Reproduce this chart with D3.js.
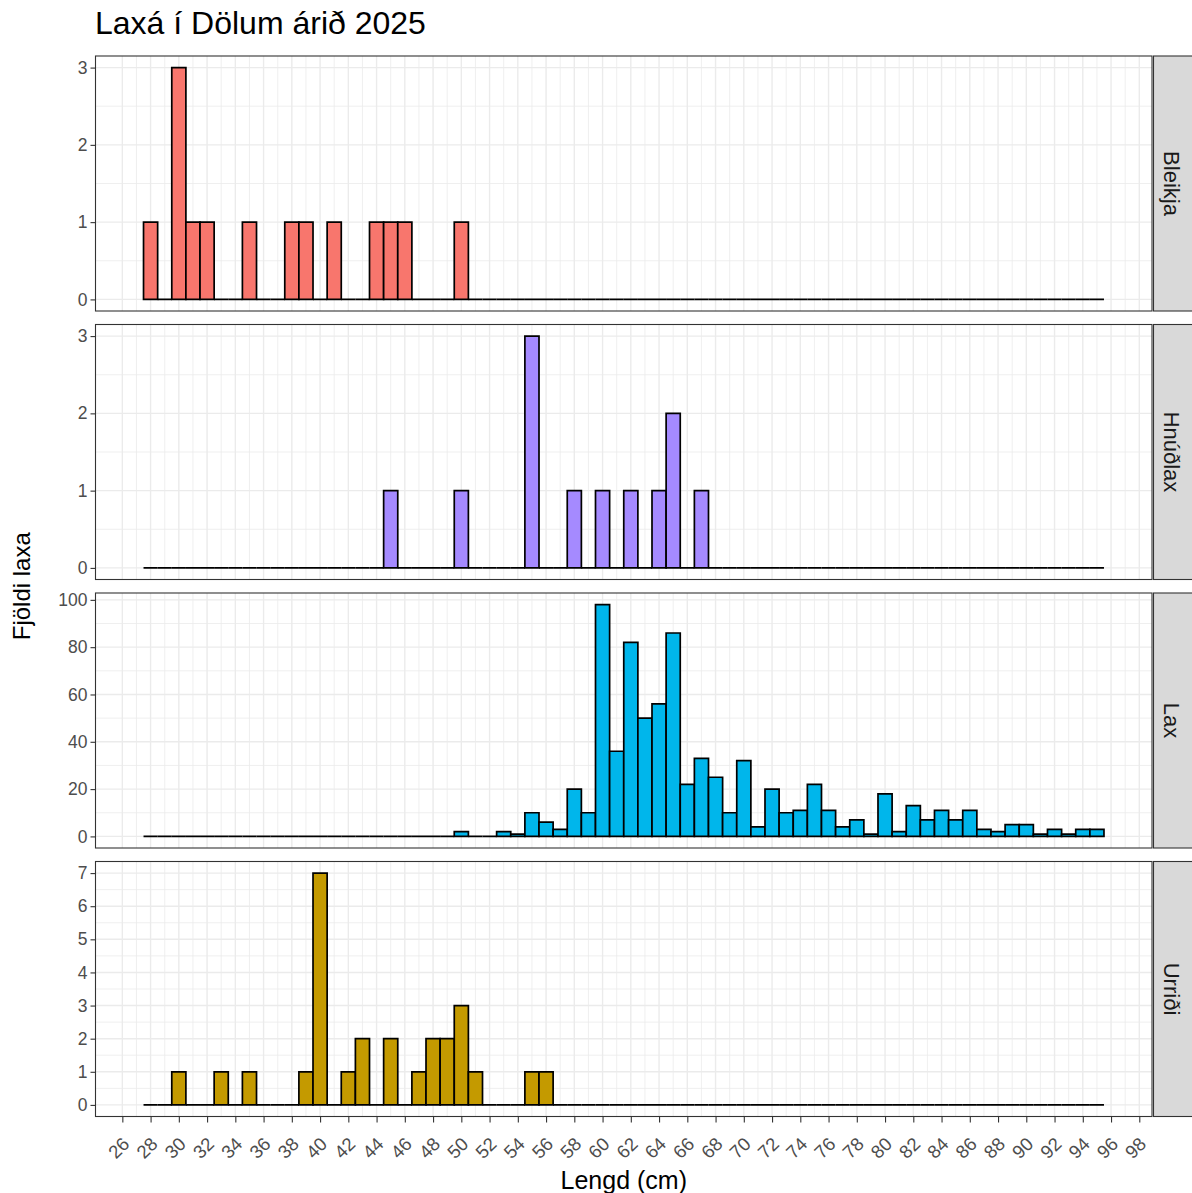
<!DOCTYPE html>
<html>
<head>
<meta charset="utf-8">
<script src="https://cdn.jsdelivr.net/npm/d3@7"></script>
<style>
  html, body { margin: 0; padding: 0; background: #fff; }
  svg { display: block; }
</style>
</head>
<body>
<svg id="chart" width="1192" height="1193"></svg>
<script>
// ---- data ----
const title = "Laxá í Dölum árið 2025";
const xTitle = "Lengd (cm)";
const yTitle = "Fjöldi laxa";
const species = ["Bleikja", "Hnúðlax", "Lax", "Urriði"];
const speciesColors = ["#F8766D", "#A58AFF", "#00B6EB", "#C49A00"];
const binStart = 27.5, binEnd = 95.5, binWidth = 1;

const bleikjaLength = [28, 30, 31, 32, 35, 38, 39, 41, 44, 45, 46, 50];
const bleikjaCount  = [1, 3, 1, 1, 1, 1, 1, 1, 1, 1, 1, 1];

const hnudlaxLength = [45, 50, 55, 58, 60, 62, 64, 65, 67];
const hnudlaxCount  = [1, 1, 3, 1, 1, 1, 1, 2, 1];

const laxLength = [50, 53, 54, 55, 56, 57, 58, 59, 60, 61, 62, 63, 64, 65, 66, 67, 68, 69, 70, 71, 72, 73,
                   74, 75, 76, 77, 78, 79, 80, 81, 82, 83, 84, 85, 86, 87, 88, 89, 90, 91, 92, 93, 94, 95];
const laxCount  = [2, 2, 1, 10, 6, 3, 20, 10, 98, 36, 82, 50, 56, 86, 22, 33, 25, 10, 32, 4, 20, 10,
                   11, 22, 11, 4, 7, 1, 18, 2, 13, 7, 11, 7, 11, 3, 2, 5, 5, 1, 3, 1, 3, 3];

const urridiLength = [30, 33, 35, 39, 40, 42, 43, 45, 47, 48, 49, 50, 51, 55, 56];
const urridiCount  = [1, 1, 1, 1, 7, 1, 2, 2, 1, 2, 2, 3, 1, 1, 1];

const xTicks = [26, 28, 30, 32, 34, 36, 38, 40, 42, 44, 46, 48, 50, 52, 54, 56, 58, 60, 62,
                64, 66, 68, 70, 72, 74, 76, 78, 80, 82, 84, 86, 88, 90, 92, 94, 96, 98];
const yTicksSmall = [0, 1, 2, 3];
const yTicksLax = [0, 20, 40, 60, 80, 100];
const yTicksUrridi = [0, 1, 2, 3, 4, 5, 6, 7];

const panelData = [
  { name: species[0], color: speciesColors[0], len: bleikjaLength, cnt: bleikjaCount, ticks: yTicksSmall },
  { name: species[1], color: speciesColors[1], len: hnudlaxLength, cnt: hnudlaxCount, ticks: yTicksSmall },
  { name: species[2], color: speciesColors[2], len: laxLength, cnt: laxCount, ticks: yTicksLax },
  { name: species[3], color: speciesColors[3], len: urridiLength, cnt: urridiCount, ticks: yTicksUrridi }
];

// ---- layout ----
const FONT = "'Liberation Sans', Arial, Helvetica, sans-serif";
const svg = d3.select("#chart");
const left = 95.5, right = 1152;
const top0 = 56, panelH = 255, gap = 13.5;
const stripW = 48;

const xPad = (binEnd - binStart) * 0.05;
const x = d3.scaleLinear().domain([binStart - xPad, binEnd + xPad]).range([left, right]);
const xMinor = xTicks.slice(0, -1).map((t, i) => (t + xTicks[i + 1]) / 2);

// title
svg.append("text").attr("x", 95).attr("y", 34)
  .attr("font-family", FONT).attr("font-size", 32).attr("fill", "#000")
  .text(title);

panelData.forEach((p, i) => {
  const pt = top0 + i * (panelH + gap);
  const pb = pt + panelH;
  const maxV = d3.max(p.cnt);
  const yPad = maxV * 0.05;
  const y = d3.scaleLinear().domain([-yPad, maxV + yPad]).range([pb, pt]);
  const g = svg.append("g");

  g.append("rect").attr("x", left).attr("y", pt).attr("width", right - left).attr("height", panelH).attr("fill", "#fff");

  // minor grid
  const step = p.ticks[1] - p.ticks[0];
  const yMinor = p.ticks.slice(0, -1).map((t) => t + step / 2);
  g.selectAll(".xmin").data(xMinor).join("line")
    .attr("x1", d => x(d)).attr("x2", d => x(d)).attr("y1", pt).attr("y2", pb)
    .attr("stroke", "#EBEBEB").attr("stroke-width", 0.8);
  g.selectAll(".ymin").data(yMinor).join("line")
    .attr("x1", left).attr("x2", right).attr("y1", d => y(d)).attr("y2", d => y(d))
    .attr("stroke", "#EBEBEB").attr("stroke-width", 0.8);
  // major grid
  g.selectAll(".xmaj").data(xTicks).join("line")
    .attr("x1", d => x(d)).attr("x2", d => x(d)).attr("y1", pt).attr("y2", pb)
    .attr("stroke", "#EBEBEB").attr("stroke-width", 1.4);
  g.selectAll(".ymaj").data(p.ticks).join("line")
    .attr("x1", left).attr("x2", right).attr("y1", d => y(d)).attr("y2", d => y(d))
    .attr("stroke", "#EBEBEB").attr("stroke-width", 1.4);

  // bins
  const lookup = new Map(p.len.map((l, k) => [l, p.cnt[k]]));
  const bins = d3.range(binStart, binEnd, binWidth).map(b0 => ({
    x0: b0, x1: b0 + binWidth, n: lookup.get(b0 + binWidth / 2) || 0
  }));
  g.selectAll(".bar").data(bins).join("path")
    .attr("d", d => {
      const X0 = x(d.x0), X1 = x(d.x1), Y0 = y(0), Y1 = y(d.n);
      return `M${X0},${Y0}V${Y1}H${X1}V${Y0}Z`;
    })
    .attr("fill", p.color).attr("stroke", "#000").attr("stroke-width", 1.7)
    .attr("stroke-linejoin", "miter");

  // panel border
  g.append("rect").attr("x", left).attr("y", pt).attr("width", right - left).attr("height", panelH)
    .attr("fill", "none").attr("stroke", "#333").attr("stroke-width", 1.1);

  // strip
  g.append("rect").attr("x", right + 1.5).attr("y", pt).attr("width", stripW).attr("height", panelH)
    .attr("fill", "#D9D9D9").attr("stroke", "#333").attr("stroke-width", 1.1);
  g.append("text")
    .attr("transform", `translate(${right + 20},${pt + panelH / 2}) rotate(90)`)
    .attr("text-anchor", "middle").attr("dy", "0.35em")
    .attr("font-family", FONT).attr("font-size", 22).attr("fill", "#1A1A1A")
    .text(p.name);

  // y axis
  const yAxis = d3.axisLeft(y).tickValues(p.ticks).tickSize(5).tickPadding(3).tickFormat(d3.format("d"));
  const ya = svg.append("g").attr("transform", `translate(${left},0)`).call(yAxis);
  ya.select(".domain").remove();
  ya.selectAll("line").attr("stroke", "#333").attr("stroke-width", 1.1);
  ya.selectAll("text").attr("font-family", FONT).attr("font-size", 17.5).attr("fill", "#4D4D4D");
});

// x axis
const bottom = top0 + 3 * (panelH + gap) + panelH;
const xAxis = d3.axisBottom(x).tickValues(xTicks).tickSize(6).tickFormat(d3.format("d"));
const xa = svg.append("g").attr("transform", `translate(0,${bottom})`).call(xAxis);
xa.select(".domain").remove();
xa.selectAll("line").attr("stroke", "#333").attr("stroke-width", 1.1);
xa.selectAll("text")
  .attr("font-family", FONT).attr("font-size", 18.5).attr("fill", "#4D4D4D")
  .attr("text-anchor", "end").attr("dy", null)
  .attr("transform", "translate(-2,19) rotate(-45)")
  .attr("y", 0).attr("x", 0)
  .attr("dominant-baseline", "hanging");

// axis titles
svg.append("text").attr("x", (left + right) / 2).attr("y", 1189)
  .attr("text-anchor", "middle").attr("font-family", FONT).attr("font-size", 25).attr("fill", "#000")
  .text(xTitle);
svg.append("text").attr("transform", `translate(30,${(top0 + bottom) / 2}) rotate(-90)`)
  .attr("text-anchor", "middle").attr("font-family", FONT).attr("font-size", 24).attr("fill", "#000")
  .text(yTitle);
</script>
</body>
</html>
